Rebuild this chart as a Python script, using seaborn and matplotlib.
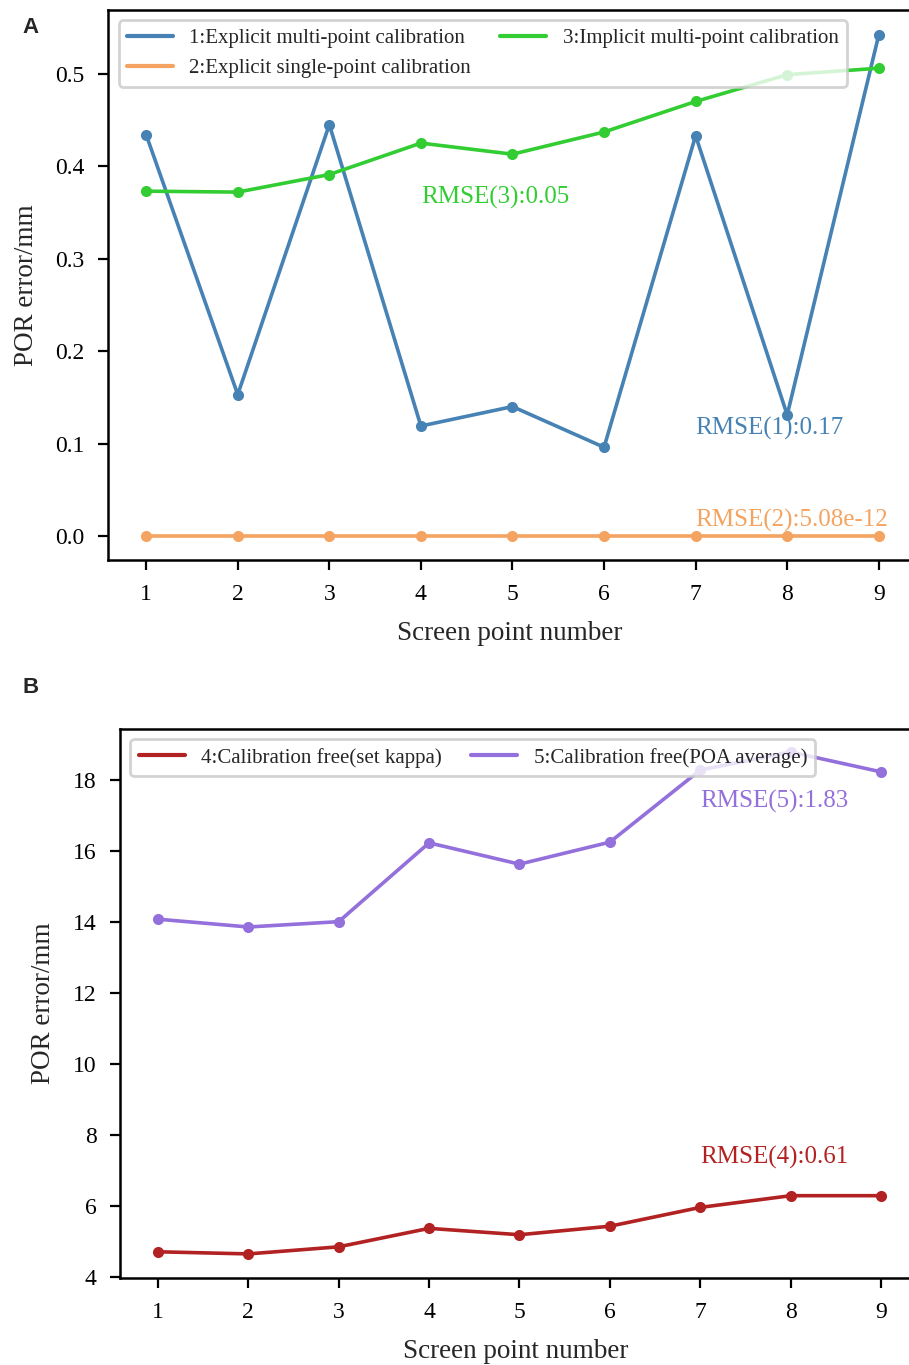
import matplotlib
matplotlib.use('Agg')
import matplotlib.pyplot as plt
import seaborn as sns
import pandas as pd

#############################################
# Data
#############################################
points = [1, 2, 3, 4, 5, 6, 7, 8, 9]

explicit_multi = [0.434, 0.153, 0.445, 0.119, 0.140, 0.096, 0.433, 0.131, 0.542]
explicit_single = [0.0, 0.0, 0.0, 0.0, 0.0, 0.0, 0.0, 0.0, 0.0]
implicit_multi = [0.373, 0.372, 0.391, 0.425, 0.413, 0.437, 0.470, 0.499, 0.506]

free_kappa = [4.71, 4.65, 4.85, 5.37, 5.19, 5.43, 5.96, 6.29, 6.29]
free_poa = [14.08, 13.86, 14.01, 16.23, 15.63, 16.25, 18.28, 18.79, 18.23]

labels_a = ['1:Explicit multi-point calibration',
            '2:Explicit single-point calibration',
            '3:Implicit multi-point calibration']
labels_b = ['4:Calibration free(set kappa)',
            '5:Calibration free(POA average)']
rmse_a = ['RMSE(1):0.17', 'RMSE(2):5.08e-12', 'RMSE(3):0.05']
rmse_b = ['RMSE(4):0.61', 'RMSE(5):1.83']

colors_a = ['#4682B4', '#F4A460', '#32CD32']
colors_b = ['#B22222', '#9370DB']

#############################################
# Style
#############################################
sns.set_style('ticks')
plt.rcParams['font.family'] = ['Liberation Serif', 'DejaVu Serif']
plt.rcParams['axes.linewidth'] = 1.8
plt.rcParams['xtick.major.width'] = 1.6
plt.rcParams['ytick.major.width'] = 1.6
plt.rcParams['xtick.major.size'] = 7
plt.rcParams['ytick.major.size'] = 7
plt.rcParams['xtick.color'] = 'black'
plt.rcParams['ytick.color'] = 'black'
plt.rcParams['axes.edgecolor'] = 'black'


def tidy_legend(ax):
    leg = ax.legend(loc='upper left', ncol=2, fontsize=15, framealpha=0.8,
                    handlelength=2.2, columnspacing=1.4, borderaxespad=0.5,
                    edgecolor='#c8c8c8')
    leg.get_frame().set_linewidth(2)
    for h in leg.legend_handles:
        h.set_marker('')
        h.set_linewidth(3)
    return leg


fig = plt.figure(figsize=(9.09, 13.65), dpi=100)
ax1 = fig.add_axes([0.119, 0.5897, 0.883, 0.403])
ax2 = fig.add_axes([0.132, 0.0637, 0.870, 0.4023])

#############################################
# Panel A
#############################################
for vals, lab, col in zip([explicit_multi, explicit_single, implicit_multi], labels_a, colors_a):
    df = pd.DataFrame({'point': points, 'err': vals})
    sns.lineplot(data=df, x='point', y='err', ax=ax1, color=col, lw=2.6,
                 marker='o', markersize=8, markeredgewidth=0, label=lab)

ax1.text(7, 0.116, rmse_a[0], color=colors_a[0], fontsize=18, va='center')
ax1.text(7, 0.017, rmse_a[1], color=colors_a[1], fontsize=18, va='center')
ax1.text(4, 0.366, rmse_a[2], color=colors_a[2], fontsize=18, va='center')

ax1.set_xlim(0.585, 9.35)
ax1.set_ylim(-0.026, 0.569)
ax1.set_xticks(points)
ax1.set_yticks([0.0, 0.1, 0.2, 0.3, 0.4, 0.5])
ax1.tick_params(labelsize=17, pad=10)
ax1.set_xlabel('Screen point number', fontsize=19.5, labelpad=12)
ax1.set_ylabel('POR error/mm', fontsize=19.5, labelpad=12)
tidy_legend(ax1)

#############################################
# Panel B
#############################################
for vals, lab, col in zip([free_kappa, free_poa], labels_b, colors_b):
    df = pd.DataFrame({'point': points, 'err': vals})
    sns.lineplot(data=df, x='point', y='err', ax=ax2, color=col, lw=2.6,
                 marker='o', markersize=8, markeredgewidth=0, label=lab)

ax2.text(7, 7.38, rmse_b[0], color=colors_b[0], fontsize=18, va='center')
ax2.text(7, 17.4, rmse_b[1], color=colors_b[1], fontsize=18, va='center')

ax2.set_xlim(0.58, 9.33)
ax2.set_ylim(3.97, 19.44)
ax2.set_xticks(points)
ax2.set_yticks([4, 6, 8, 10, 12, 14, 16, 18])
ax2.tick_params(labelsize=17, pad=10)
ax2.set_xlabel('Screen point number', fontsize=19.5, labelpad=12)
ax2.set_ylabel('POR error/mm', fontsize=19.5, labelpad=12)
tidy_legend(ax2)

# panel letters
fig.text(0.025, 0.976, 'A', fontsize=16, fontweight='bold', family='Liberation Sans')
fig.text(0.025, 0.492, 'B', fontsize=16, fontweight='bold', family='Liberation Sans')

fig.savefig('out.png', dpi=100)
